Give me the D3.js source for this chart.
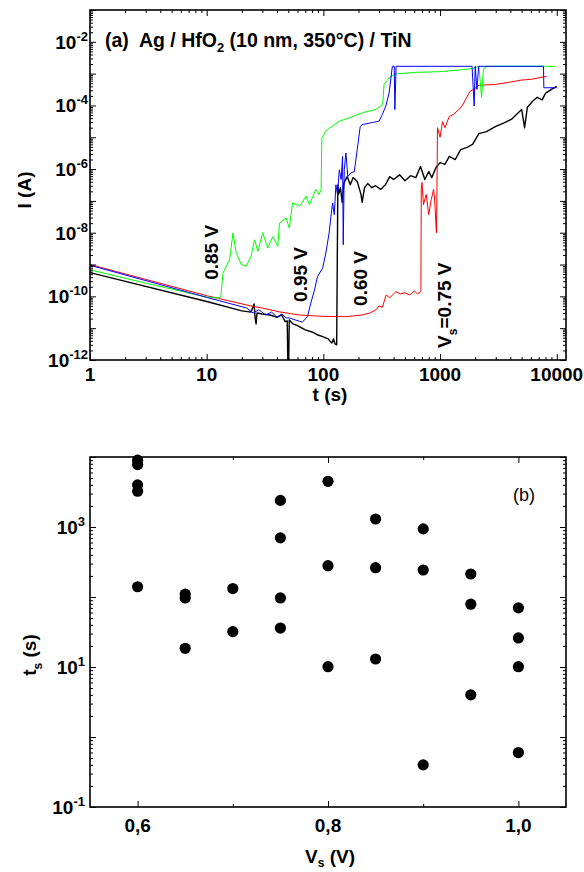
<!DOCTYPE html>
<html><head><meta charset="utf-8">
<script src="https://cdn.jsdelivr.net/npm/d3@7"></script>
<style>body{margin:0;background:#fff}svg{display:block}text{font-family:"Liberation Sans",Arial,sans-serif}</style>
</head><body>
<script>
// ---------- DATA ----------
// panel (a): [t (s), I (A)]
const curveBlack = [[1,5.6e-10],[10,6.9e-11],[20,3.5e-11],[24,3.2e-11],[25.5,5.8e-11],[26,2.1e-11],[26.5,1.36e-11],[27,3.0e-11],[30,2.8e-11],[35,2.6e-11],[40,2.2e-11],[44,2.6e-11],[47,1.6e-11],[49,1.7e-11],[50,1e-13],[51,1.8e-11],[55,1.36e-11],[60,1.2e-11],[70,8.8e-12],[80,7.6e-12],[90,6.1e-12],[100,5.3e-12],[110,4.6e-12],[118,3.4e-12],[122,4.6e-12],[126,3.2e-12],[130,3.0e-12],[133,3.2e-7],[135,1.6e-7],[140,2.6e-7],[145,9e-8],[150,3.7e-7],[160,5.8e-7],[170,3.2e-7],[180,5.4e-7],[195,4.1e-7],[210,1.6e-7],[215,9e-8],[225,2.6e-7],[240,3.5e-7],[260,2.6e-7],[280,3.0e-7],[310,2.3e-7],[340,3.2e-7],[370,5.8e-7],[400,4.7e-7],[450,6.6e-7],[500,4.3e-7],[560,6.2e-7],[620,5.4e-7],[680,1.2e-6],[740,4.7e-7],[800,8.4e-7],[850,5.4e-7],[920,1.1e-6],[1000,1.6e-6],[1100,1.4e-6],[1200,2.5e-6],[1350,2e-6],[1500,4.1e-6],[1700,4.8e-6],[1900,6e-6],[2150,1.3e-5],[2500,1.5e-5],[3000,2.2e-5],[3500,2.8e-5],[4100,3.7e-5],[4700,6.0e-5],[5000,7.5e-5],[5300,2.0e-5],[5600,8.7e-5],[6200,1.35e-4],[6800,1.8e-4],[7500,1.5e-4],[8000,2.4e-4],[9000,3.2e-4],[10000,4.0e-4]];
const curveRed = [[1,1.0e-9],[10,1.05e-10],[25,4.8e-11],[30,4.3e-11],[42,3.25e-11],[62,2.6e-11],[100,2.35e-11],[156,2.3e-11],[215,2.6e-11],[250,3.0e-11],[283,3.8e-11],[300,5e-11],[320,4.5e-11],[345,1.1e-10],[370,9e-11],[418,1.4e-10],[460,1.2e-10],[500,1.3e-10],[550,1.1e-10],[600,1.5e-10],[640,1.2e-10],[685,1.4e-10],[690,2.3e-7],[700,3.8e-7],[720,7.6e-8],[760,1.6e-7],[800,3.7e-8],[840,1.1e-7],[880,2.3e-7],[900,1.0e-7],[930,1.0e-8],[940,1.5e-7],[950,2.0e-5],[1000,1.0e-5],[1050,3.1e-5],[1100,2.0e-5],[1200,4.5e-5],[1300,5.2e-5],[1450,7.5e-5],[1540,9.6e-5],[1650,1.5e-4],[1800,2.75e-4],[1980,3.4e-4],[2150,4.3e-4],[3000,4.6e-4],[4100,5.5e-4],[5000,6.3e-4],[6000,6.6e-4],[8200,8.2e-4]];
const curveGreen = [[1,6.8e-10],[3,2.6e-10],[10,9.5e-11],[12.5,8.8e-11],[13.2,9.5e-11],[13.8,5.4e-10],[15.7,1.4e-9],[16.8,9.8e-9],[17.9,2.3e-9],[19.8,1.0e-9],[21.8,8.8e-10],[24,1.8e-9],[25.7,6.0e-9],[27.5,2.6e-9],[30.2,1.0e-8],[33.4,3.3e-9],[36.8,7.6e-9],[40.7,3.7e-9],[42,2.0e-8],[48,2.9e-8],[51,1.4e-8],[54.5,8.7e-8],[62.5,6.8e-8],[71,1.4e-7],[76,7.6e-8],[86,2.3e-7],[92,1.6e-7],[95.6,2.3e-7],[97,9.5e-6],[105,1.55e-5],[112,1.9e-5],[137,3.2e-5],[167,4.1e-5],[216,5.9e-5],[282,7.5e-5],[322,1.07e-4],[331,4.6e-4],[366,7.4e-4],[405,9.5e-4],[445,1.0e-3],[620,1.1e-3],[980,1.15e-3],[1450,1.3e-3],[1880,1.45e-3],[2150,1.7e-3],[2270,1.8e-4],[2350,1.3e-3],[2480,1.7e-3],[9800,1.7e-3]];
const curveBlue = [[1,9.5e-10],[10,9.3e-11],[22,4.3e-11],[25,3.0e-11],[28,3.8e-11],[32,2.6e-11],[36,3.2e-11],[40,2.2e-11],[44,2.8e-11],[48,2.1e-11],[51,2.1e-11],[66,1.54e-11],[73,2.3e-11],[78,6.1e-11],[84,1.6e-10],[89,4.2e-10],[98.5,7.7e-10],[105,2.3e-9],[112,9.8e-9],[116,3.2e-8],[120,8.6e-8],[124,3.7e-8],[128,3.2e-7],[132,1.6e-7],[137,9.5e-7],[142,4.7e-7],[146,2.5e-6],[148,4.2e-9],[151,9.6e-7],[156,3.2e-6],[162,5.9e-7],[172,7.6e-7],[184,8.3e-7],[195,4.1e-6],[207,2.2e-5],[215,2.5e-5],[262,2.9e-5],[300,3.2e-5],[320,5.2e-5],[343,9.6e-5],[366,2.5e-4],[390,1.7e-3],[405,1.7e-3],[410,7.4e-5],[420,1.7e-3],[1880,1.7e-3],[1960,9.6e-5],[2000,1.7e-3],[2070,3.2e-4],[2140,1.7e-3],[7700,1.7e-3],[7750,3.6e-4],[10000,3.6e-4]];
const curveLabels = [
  {text:"0.85 V", t:12.4, I:3.3e-10},
  {text:"0.95 V", t:73, I:6.7e-11},
  {text:"0.60 V", t:237, I:5.0e-11},
  {text:"=0.75 V", t:1230, I:2.4e-12, pre:"V", sub:"s"}
];
const xTicksA = [1,10,100,1000,10000];
const yExpA = [-12,-10,-8,-6,-4,-2];

// panel (b): V_s (V) and t_s (s)
const vs = [0.6,0.6,0.6,0.6,0.6, 0.65,0.65,0.65, 0.7,0.7, 0.75,0.75,0.75,0.75, 0.8,0.8,0.8, 0.85,0.85,0.85, 0.9,0.9,0.9, 0.95,0.95,0.95, 1.0,1.0,1.0,1.0];
const ts = [9000,7800,4000,3250,140, 110,97,18.5, 132,32, 2400,700,97,36, 4500,280,10.1, 1300,262,13, 940,243,0.4, 213,79,4.0, 70,26,10.1,0.6];
const xTicksB = [0.6,0.7,0.8,0.9,1.0];
const xLabelsB = [0.6,0.8,1.0];
const yExpB = [-1,1,3];

// ---------- DRAW ----------
const svg = d3.select("body").append("svg").attr("width",584).attr("height",872);
const FS = 19;

function logMinors(lo, hi){ const r=[]; for(let e=Math.floor(Math.log10(lo)); e<=Math.ceil(Math.log10(hi)); e++){ for(let k=2;k<=9;k++){ const v=k*Math.pow(10,e); if(v>=lo&&v<=hi) r.push(v);} } return r; }
function logMajors(lo, hi){ const r=[]; for(let e=Math.ceil(Math.log10(lo)-1e-9); e<=Math.floor(Math.log10(hi)+1e-9); e++) r.push(Math.pow(10,e)); return r; }

function frame(x, y, xMaj, xMin, yMaj, yMin){
  const [L,R]=x.range(), [B,T]=y.range();
  const g=svg.append("g");
  const add=(fn,sc,vals,size,tr)=>g.append("g").attr("transform",tr)
     .call(fn(sc).tickValues(vals).tickSize(size).tickFormat(""))
     .call(s=>{s.select(".domain").remove(); s.selectAll("line").attr("stroke","#000").attr("stroke-width",1);});
  add(d3.axisBottom,x,xMaj,-6,`translate(0,${B})`);
  add(d3.axisBottom,x,xMin,-3,`translate(0,${B})`);
  add(d3.axisTop,x,xMaj,-6,`translate(0,${T})`);
  add(d3.axisTop,x,xMin,-3,`translate(0,${T})`);
  add(d3.axisLeft,y,yMaj,-6,`translate(${L},0)`);
  add(d3.axisLeft,y,yMin,-3,`translate(${L},0)`);
  add(d3.axisRight,y,yMaj,-6,`translate(${R},0)`);
  add(d3.axisRight,y,yMin,-3,`translate(${R},0)`);
  g.append("rect").attr("x",L).attr("y",T).attr("width",R-L).attr("height",B-T)
    .attr("fill","none").attr("stroke","#000").attr("stroke-width",1.6);
}
function powLabel(x0, y0, e){
  const t=svg.append("text").attr("x",x0).attr("y",y0).attr("text-anchor","end")
    .attr("font-weight","bold").attr("font-size",FS);
  t.append("tspan").text("10");
  t.append("tspan").attr("dy",-8).attr("font-size",13).text(String(e));
}

// ----- panel (a)
const xA = d3.scaleLog().domain([1,12000]).range([90,566]);
const yA = d3.scaleLog().domain([1e-12,1e-1]).range([360,10]);
svg.append("clipPath").attr("id","clipA").append("rect").attr("x",90).attr("y",10).attr("width",476).attr("height",350);
const line = d3.line().x(d=>xA(d[0])).y(d=>yA(d[1]));
const gA = svg.append("g").attr("clip-path","url(#clipA)");
[[curveBlack,"#000",1.4],[curveRed,"#ff0000",1],[curveGreen,"#00ff00",1],[curveBlue,"#0000ff",1]].forEach(([d,c,w])=>{
  gA.append("path").datum(d).attr("d",line).attr("fill","none").attr("stroke",c).attr("stroke-width",w).attr("stroke-linejoin","round");
});
frame(xA,yA,logMajors(1,12000),logMinors(1,12000),logMajors(1e-12,1e-1),logMinors(1e-12,1e-1));
xTicksA.forEach(v=>svg.append("text").attr("x",xA(v)).attr("y",381).attr("text-anchor","middle")
  .attr("font-weight","bold").attr("font-size",FS).text(v));
yExpA.forEach(e=>powLabel(88, yA(Math.pow(10,e))+7, e));
svg.append("text").attr("transform","translate(31,190) rotate(-90)").attr("text-anchor","middle")
  .attr("font-weight","bold").attr("font-size",FS).text("I (A)");
svg.append("text").attr("x",330).attr("y",401).attr("text-anchor","middle")
  .attr("font-weight","bold").attr("font-size",FS).text("t (s)");
const title = svg.append("text").attr("x",105).attr("y",47).attr("font-weight","bold").attr("font-size",19.5).style("white-space","pre");
title.append("tspan").text("(a)  Ag / HfO");
title.append("tspan").attr("dy",5).attr("font-size",13).text("2");
title.append("tspan").attr("dy",-5).text(" (10 nm, 350°C) / TiN");
curveLabels.forEach(l=>{
  const t=svg.append("text").attr("transform",`translate(${xA(l.t)},${yA(l.I)}) rotate(-90)`)
    .attr("font-weight","bold").attr("font-size",FS);
  if(l.pre){ t.append("tspan").text(l.pre); t.append("tspan").attr("dy",6).attr("font-size",12).text(l.sub); t.append("tspan").attr("dy",-6).text(l.text);}
  else t.text(l.text);
});

// ----- panel (b)
const xB = d3.scaleLinear().domain([0.55,1.05]).range([90,566]);
const yB = d3.scaleLog().domain([0.1,1e4]).range([807,457]);
svg.append("g").selectAll("circle").data(vs.map((v,i)=>[v,ts[i]])).join("circle")
  .attr("cx",d=>xB(d[0])).attr("cy",d=>yB(d[1])).attr("r",5.6).attr("fill","#000");
frame(xB,yB,xLabelsB,xTicksB.filter(v=>!xLabelsB.includes(v)),logMajors(0.1,1e4),logMinors(0.1,1e4));
xLabelsB.forEach(v=>svg.append("text").attr("x",xB(v)).attr("y",832).attr("text-anchor","middle")
  .attr("font-weight","bold").attr("font-size",FS).text(d3.format(".1f")(v).replace(".",",")));
yExpB.forEach(e=>powLabel(85, yB(Math.pow(10,e))+7, e));
const tl = svg.append("text").attr("transform","translate(36,655) rotate(-90)").attr("text-anchor","middle")
  .attr("font-weight","bold").attr("font-size",FS);
tl.append("tspan").text("t"); tl.append("tspan").attr("dy",6).attr("font-size",12).text("s"); tl.append("tspan").attr("dy",-6).text(" (s)");
const vl = svg.append("text").attr("x",330).attr("y",863).attr("text-anchor","middle")
  .attr("font-weight","bold").attr("font-size",FS);
vl.append("tspan").text("V"); vl.append("tspan").attr("dy",4).attr("font-size",12).text("s"); vl.append("tspan").attr("dy",-4).text(" (V)");
svg.append("text").attr("x",513).attr("y",501).attr("font-family","DejaVu Sans").attr("font-size",18).text("(b)");
</script>
</body></html>
